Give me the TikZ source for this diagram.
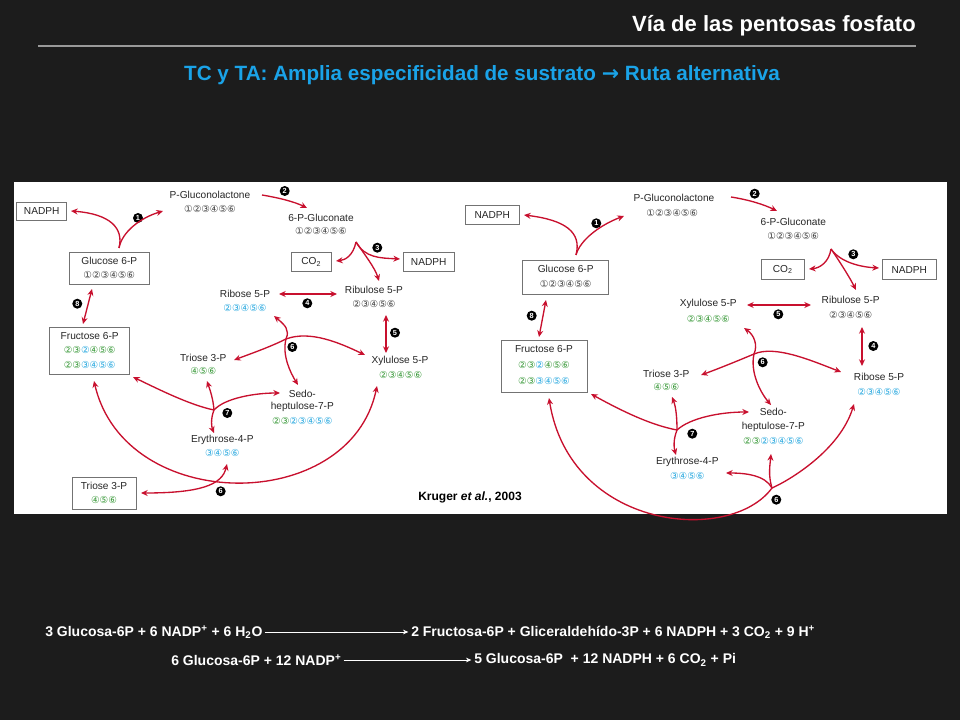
\documentclass[tikz,border=0pt]{standalone}
\usepackage{fontspec}
\setmainfont{Liberation Sans}
\newfontfamily\djfont{DejaVu Sans}
\usetikzlibrary{arrows.meta}
\definecolor{bg}{HTML}{1C1C1C}
\definecolor{cg}{HTML}{3A9A3A}
\definecolor{cb}{HTML}{29A9E0}
\definecolor{cgr}{HTML}{444444}
\definecolor{rd}{HTML}{C8102E}
\definecolor{sub}{HTML}{1AA3E8}
\newcommand\Gn[1]{\textcolor{cg}{#1}}
\newcommand\Bl[1]{\textcolor{cb}{#1}}
\tikzset{
 lbl/.style={font=\fontsize{7.6}{8}\selectfont, inner sep=0pt, text=black!85},
 dg/.style={font=\djfont\fontsize{7.2}{8}\selectfont, inner sep=0pt, text=cgr},
 bx/.style={draw=black!55, line width=0.6pt},
 badge/.style={circle, fill=black, text=white, inner sep=0pt, minimum size=7.5pt, font=\bfseries\fontsize{5.5}{6}\selectfont},
 arr/.style={draw=rd, line width=1pt, -{Stealth[length=5pt,width=4.5pt]}},
 darr/.style={draw=rd, line width=1pt, {Stealth[length=5pt,width=4.5pt]}-{Stealth[length=5pt,width=4.5pt]}},
 eq/.style={text=white, font=\bfseries\fontsize{10.5}{12}\selectfont, inner sep=0pt},
}
\begin{document}
\begin{tikzpicture}[x=0.75pt,y=-0.75pt]
\fill[bg] (0,0) rectangle (960,720);
\useasboundingbox (0,0) rectangle (960,720);
% header
\node[anchor=east, text=white, font=\bfseries\fontsize{16.5}{18}\selectfont, inner sep=0pt] (title) at (916,26) {Vía de las pentosas fosfato};
\draw[black!40, line width=0.8pt] (38,46) -- (916,46);
\node[text=sub, font=\bfseries\fontsize{15.5}{18}\selectfont, inner sep=0pt] (subt) at (482,75) {TC y TA: Amplia especificidad de sustrato {\djfont\bfseries →} Ruta alternativa};
% panel
\fill[white] (14,182) rectangle (947,514);
\node[font=\bfseries\fontsize{9}{10}\selectfont, inner sep=0pt] (kr) at (470,497) {Kruger \textit{et al.}, 2003};

% ===== LEFT =====
\draw[bx] (16.7,202) rectangle (66.7,220); \node[lbl] (nadphL) at (41.7,211) {NADPH};
\node[lbl] (pglL) at (210,195) {P-Gluconolactone}; \node[dg] (pglLd) at (210,209) {①②③④⑤⑥};
\node[lbl] (pgnL) at (321,218) {6-P-Gluconate}; \node[dg] (pgnLd) at (321,231) {①②③④⑤⑥};
\draw[bx] (69.7,252.7) rectangle (149,284.3);
\node[lbl] (g6L) at (109.3,261) {Glucose 6-P}; \node[dg] (g6Ld) at (109.3,275) {①②③④⑤⑥};
\draw[bx] (49.7,327.7) rectangle (129,374.7);
\node[lbl] (f6L) at (89.7,336) {Fructose 6-P};
\node[dg] (f6Ld1) at (89.7,350) {\Gn{②③}\Bl{②}\Gn{④⑤⑥}};
\node[dg] (f6Ld2) at (89.7,365) {\Gn{②③}\Bl{③④⑤⑥}};
\draw[bx] (291.3,252.7) rectangle (331.3,271); \node[lbl] (co2L) at (311.3,262) {CO\textsubscript{2}};
\draw[bx] (403.3,252.7) rectangle (454,271); \node[lbl] (nadphL2) at (428.7,262) {NADPH};
\node[lbl] (r5L) at (245,294) {Ribose 5-P}; \node[dg] (r5Ld) at (245,307.7) {\Bl{②③④⑤⑥}};
\node[lbl] (ru5L) at (374,290) {Ribulose 5-P}; \node[dg] (ru5Ld) at (374,303.7) {②③④⑤⑥};
\node[lbl] (t3L) at (203.3,357.7) {Triose 3-P}; \node[dg] (t3Ld) at (203.3,370.7) {\Gn{④⑤⑥}};
\node[lbl] (x5L) at (400,361) {Xylulose 5-P}; \node[dg] (x5Ld) at (400.7,375.3) {\Gn{②③④⑤⑥}};
\node[lbl] (s7La) at (302.3,394) {Sedo-}; \node[lbl] (s7Lb) at (302.3,407.3) {heptulose-7-P};
\node[dg] (s7Ld) at (302.3,420.7) {\Gn{②③}\Bl{②③④⑤⑥}};
\node[lbl] (e4L) at (222.3,439.7) {Erythrose-4-P}; \node[dg] (e4Ld) at (222.3,453.3) {\Bl{③④⑤⑥}};
\draw[bx] (72.7,477) rectangle (136.3,509.3);
\node[lbl] (t3Lb) at (104,486) {Triose 3-P}; \node[dg] (t3Lbd) at (104,500) {\Gn{④⑤⑥}};
\node[badge] (b1L) at (138,218) {1};
\node[badge] (b2L) at (284.7,191) {2};
\node[badge] (b3L) at (377.3,247.7) {3};
\node[badge] (b4L) at (307.3,303.3) {4};
\node[badge] (b5L) at (395,332.7) {5};
\node[badge] (b6L) at (292.3,347) {6};
\node[badge] (b7L) at (227.3,413) {7};
\node[badge] (b8L) at (77.3,303.7) {8};
\node[badge] (b6Lb) at (220.7,491.3) {6};
\coordinate (j1L) at (119,248);
\draw[arr] (j1L) .. controls (122,232) and (140,218) .. (163,211);
\draw[arr] (j1L) .. controls (124,228) and (110,214) .. (71,211);
\draw[arr] (262,195) .. controls (280,198) and (295,202) .. (307,208);
\coordinate (j3L) at (356,242);
\draw[arr] (j3L) .. controls (353,256) and (345,260) .. (336,261);
\draw[arr] (j3L) .. controls (365,258) and (380,258) .. (400,259);
\draw[arr] (j3L) .. controls (365,255) and (375,268) .. (379,281);
\draw[darr] (279,294) -- (337,294);
\draw[darr] (386,315) -- (386,353);
\draw[darr] (92,289) -- (83,324);
\coordinate (j6L) at (286,339);
\draw[arr] (j6L) .. controls (290,330) and (285,325) .. (274,316);
\draw[arr] (j6L) .. controls (270,347) and (250,354) .. (234,360);
\draw[arr] (j6L) .. controls (310,330) and (340,343) .. (365,355);
\draw[arr] (j6L) .. controls (282,355) and (290,372) .. (298,385);
\coordinate (j7L) at (214,410);
\draw[arr] (j7L) .. controls (190,405) and (160,390) .. (133,377);
\draw[arr] (j7L) .. controls (213,398) and (210,390) .. (207,381);
\draw[arr] (j7L) .. controls (225,398) and (255,393) .. (280,393);
\draw[arr] (j7L) .. controls (210,420) and (212,428) .. (214,433);
\draw[darr] (94,381) .. controls (125,515) and (350,515) .. (377,386);
\draw[darr] (141,493) .. controls (200,493) and (222,485) .. (227,464);

% ===== RIGHT =====
\draw[bx] (465.7,205.3) rectangle (519,224.7); \node[lbl] (nadphR) at (492.3,215) {NADPH};
\node[lbl] (pglR) at (674,197.7) {P-Gluconolactone}; \node[dg] (pglRd) at (672.3,212.7) {①②③④⑤⑥};
\node[lbl] (pgnR) at (793.3,222) {6-P-Gluconate}; \node[dg] (pgnRd) at (793.3,236.3) {①②③④⑤⑥};
\draw[bx] (522.3,260.3) rectangle (608,294.3);
\node[lbl] (g6R) at (565.7,269) {Glucose 6-P}; \node[dg] (g6Rd) at (565.7,284) {①②③④⑤⑥};
\draw[bx] (501.3,340.7) rectangle (587.3,392);
\node[lbl] (f6R) at (544,349.3) {Fructose 6-P};
\node[dg] (f6Rd1) at (544,365.3) {\Gn{②③}\Bl{②}\Gn{④⑤⑥}};
\node[dg] (f6Rd2) at (544,381.3) {\Gn{②③}\Bl{③④⑤⑥}};
\draw[bx] (761.3,259.7) rectangle (804,279.7); \node[lbl] (co2R) at (782.7,269.7) {CO\textsubscript{2}};
\draw[bx] (882.3,259.7) rectangle (936.3,279.7); \node[lbl] (nadphR2) at (909.3,269.7) {NADPH};
\node[lbl] (x5R) at (708.3,304.3) {Xylulose 5-P}; \node[dg] (x5Rd) at (708.3,319) {\Gn{②③④⑤⑥}};
\node[lbl] (ru5R) at (850.7,300.3) {Ribulose 5-P}; \node[dg] (ru5Rd) at (850.7,315.3) {②③④⑤⑥};
\node[lbl] (t3R) at (666.3,373.7) {Triose 3-P}; \node[dg] (t3Rd) at (666.3,387) {\Gn{④⑤⑥}};
\node[lbl] (r5R) at (879,377) {Ribose 5-P}; \node[dg] (r5Rd) at (879,392) {\Bl{②③④⑤⑥}};
\node[lbl] (s7Ra) at (773.3,412) {Sedo-}; \node[lbl] (s7Rb) at (773.3,427.3) {heptulose-7-P};
\node[dg] (s7Rd) at (773.3,441.3) {\Gn{②③}\Bl{②③④⑤⑥}};
\node[lbl] (e4R) at (687.3,462) {Erythrose-4-P}; \node[dg] (e4Rd) at (687.3,476.3) {\Bl{③④⑤⑥}};
\node[badge] (b1R) at (596.3,223.3) {1};
\node[badge] (b2R) at (754.7,193.7) {2};
\node[badge] (b3R) at (853.3,254.3) {3};
\node[badge] (b5R) at (778.3,314.3) {5};
\node[badge] (b4R) at (873.3,346) {4};
\node[badge] (b6R) at (762.7,362.3) {6};
\node[badge] (b7R) at (692.3,433.7) {7};
\node[badge] (b8R) at (531.7,315.7) {8};
\node[badge] (b6Rb) at (776.3,499.7) {6};
\coordinate (j1R) at (576,255);
\draw[arr] (j1R) .. controls (580,240) and (600,225) .. (624,216);
\draw[arr] (j1R) .. controls (582,232) and (565,220) .. (524,215);
\draw[arr] (731,197) .. controls (750,200) and (765,205) .. (777,211);
\coordinate (j3R) at (831,249);
\draw[arr] (j3R) .. controls (829,262) and (820,268) .. (809,269);
\draw[arr] (j3R) .. controls (840,262) and (860,267) .. (879,268);
\draw[arr] (j3R) .. controls (840,262) and (850,278) .. (856,290);
\draw[darr] (747,305) -- (811,305);
\draw[darr] (862,327) -- (862,366);
\draw[darr] (546,300) -- (539,337);
\coordinate (j6R) at (754,354);
\draw[arr] (j6R) .. controls (758,345) and (754,335) .. (744,328);
\draw[arr] (j6R) .. controls (735,362) and (715,370) .. (701,375);
\draw[arr] (j6R) .. controls (775,345) and (810,360) .. (841,372);
\draw[arr] (j6R) .. controls (750,372) and (760,392) .. (771,405);
\coordinate (j7R) at (677,430);
\draw[arr] (j7R) .. controls (650,425) and (620,410) .. (591,394);
\draw[arr] (j7R) .. controls (677,418) and (676,407) .. (672,397);
\draw[arr] (j7R) .. controls (690,418) and (720,412) .. (749,412);
\draw[arr] (j7R) .. controls (673,440) and (674,448) .. (676,455);
\coordinate (j6Rb) at (772,488);
\draw[arr] (j6Rb) .. controls (730,545) and (570,530) .. (549,398);
\draw[arr] (j6Rb) .. controls (765,475) and (745,473) .. (726,473);
\draw[arr] (j6Rb) .. controls (768,475) and (770,465) .. (771,454);
\draw[arr] (j6Rb) .. controls (790,480) and (840,450) .. (854,404);

% ===== equations =====
\node[eq, anchor=west] (e1a) at (45,632) {3 Glucosa-6P + 6 NADP\textsuperscript{+} + 6 H\textsubscript{2}O};
\node[eq, anchor=west] (e1b) at (411,632) {2 Fructosa-6P + Gliceraldehído-3P + 6 NADPH + 3 CO\textsubscript{2} + 9 H\textsuperscript{+}};
\draw[white, line width=0.5pt, -{Stealth[length=4pt,width=3.5pt]}] (e1a.east) ++(2,0) -- ([xshift=-2pt]e1b.west);
\node[eq, anchor=west] (e2a) at (171,660) {6 Glucosa-6P + 12 NADP\textsuperscript{+}};
\node[eq, anchor=west] (e2b) at (474,660) {5 Glucosa-6P \ + 12 NADPH + 6 CO\textsubscript{2} + Pi};
\draw[white, line width=0.5pt, -{Stealth[length=4pt,width=3.5pt]}] (e2a.east) ++(2,0) -- ([xshift=-2pt]e2b.west);
\end{tikzpicture}
\end{document}
